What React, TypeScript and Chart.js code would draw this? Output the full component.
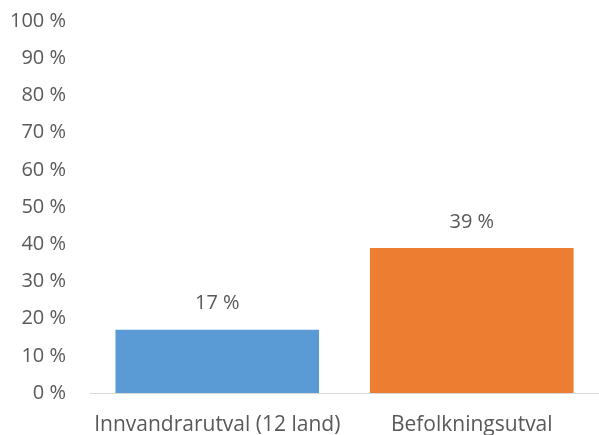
import React, { useEffect, useRef } from "react";
import { Chart, registerables } from "chart.js";

Chart.register(...registerables);

const categories = ["Innvandrarutval (12 land)", "Befolkningsutval"];
const values = [17, 39];
const barColors = ["#5B9BD5", "#ED7D31"];
const yTicks = [0, 10, 20, 30, 40, 50, 60, 70, 80, 90, 100];

const FONT = "'Open Sans', 'Liberation Sans', sans-serif";
const TEXT = "#595959";

const labelPlugin = {
  id: "barLabels",
  afterDatasetsDraw(chart: any) {
    const ctx = chart.ctx;
    const meta = chart.getDatasetMeta(0);
    ctx.save();
    ctx.font = `20px ${FONT}`;
    ctx.fillStyle = TEXT;
    ctx.textAlign = "center";
    ctx.textBaseline = "middle";
    meta.data.forEach((bar: any, i: number) => {
      ctx.fillText(`${values[i]} %`, bar.x, bar.y - 26);
    });
    ctx.restore();
  },
};

export default function App() {
  const ref = useRef<HTMLCanvasElement>(null);
  useEffect(() => {
    document.body.style.margin = "0";
    const chart = new Chart(ref.current!, {
      type: "bar",
      data: {
        labels: categories,
        datasets: [
          {
            data: values,
            backgroundColor: barColors,
            borderWidth: 0,
            categoryPercentage: 0.8,
            barPercentage: 1,
          },
        ],
      },
      options: {
        animation: false,
        responsive: false,
        maintainAspectRatio: false,
        layout: { padding: { top: 21, right: 0, left: 0, bottom: 0 } },
        plugins: { legend: { display: false }, tooltip: { enabled: false } },
        scales: {
          x: {
            grid: { display: false, drawTicks: false },
            border: { display: true, color: "#D9D9D9", width: 1 },
            ticks: {
              color: TEXT,
              font: { family: FONT, size: 21 },
              padding: 19,
              maxRotation: 0,
              autoSkip: false,
            },
            afterFit: (s: any) => {
              s.height = 42;
              s.paddingLeft = 0;
              s.paddingRight = 0;
            },
          },
          y: {
            min: 0,
            max: 100,
            afterBuildTicks: (s: any) => {
              s.ticks = yTicks.map((v) => ({ value: v }));
            },
            grid: { display: false, drawTicks: false },
            border: { display: false },
            ticks: {
              color: TEXT,
              font: { family: FONT, size: 20 },
              padding: 24,
              callback: (v: any) => `${v} %`,
            },
            afterFit: (s: any) => {
              s.width = 90;
              s.paddingTop = 0;
              s.paddingBottom = 0;
            },
          },
        },
      },
      plugins: [labelPlugin],
    });
    return () => chart.destroy();
  }, []);
  return (
    <div style={{ width: 599, height: 435 }}>
      <canvas ref={ref} width={599} height={435} style={{ display: "block" }} />
    </div>
  );
}
